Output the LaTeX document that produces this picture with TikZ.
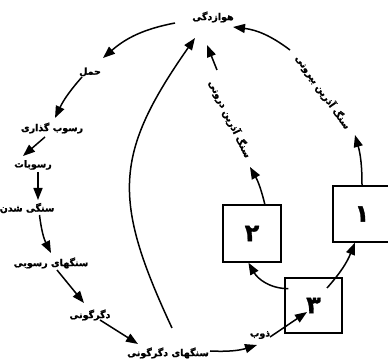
\documentclass[tikz,border=0pt]{standalone}
\usepackage{fontspec}
\newfontfamily\fa[Script=Arabic,BoldFeatures={FakeBold=1.2}]{DejaVu Sans}
\TeXXeTstate=1
\usetikzlibrary{arrows.meta}
\begin{document}
\begin{tikzpicture}[x=1pt,y=1pt,
  lbl/.style={font=\fa\bfseries\fontsize{9.5}{11}\selectfont, inner sep=1pt},
  numbox/.style={draw, line width=1.4pt, minimum width=57pt, minimum height=55pt, inner sep=0pt,
    font=\fa\bfseries\fontsize{24}{26}\selectfont},
  arr/.style={line width=1.5pt, -{Triangle[length=12pt,width=9pt]}}]
\useasboundingbox (0,0) rectangle (388,361);
\fill[white] (0,0) rectangle (388,361);
% labels
\node[lbl] (w)  at (213,344) {\beginR هوازدگی\endR};
\node[lbl] (hm) at (90,289)  {\beginR حمل\endR};
\node[lbl] (rg) at (52,233)  {\beginR رسوب گذاری\endR};
\node[lbl] (rs) at (33,196)  {\beginR رسوبات\endR};
\node[lbl] (ss) at (27,153)  {\beginR سنگی شدن\endR};
\node[lbl] (sr) at (51,98)   {\beginR سنگهای رسوبی\endR};
\node[lbl] (dg) at (90,46)   {\beginR دگرگونی\endR};
\node[lbl] (sd) at (168,8)   {\beginR سنگهای دگرگونی\endR};
\node[lbl] (zb) at (260,26)  {\beginR ذوب\endR};
\node[lbl, rotate=-55] (l1) at (323,269) {\beginR سنگ آذرین بیرونی\endR};
\node[lbl, rotate=-64] (l2) at (230,242) {\beginR سنگ آذرین درونی\endR};
% boxes
\node[numbox, minimum width=58pt, minimum height=56pt] (b1) at (362,147) {\beginR ۱\endR};
\node[numbox, minimum width=58pt, minimum height=57pt] (b2) at (252,127.5) {\beginR ۲\endR};
\node[numbox] (b3) at (313.5,55.5) {\beginR ۳\endR};
% left chain
\draw[arr] ([shift={(-38,-6)}]w.center) to[bend right=15] ([shift={(13,14)}]hm.center);
\draw[arr] ([shift={(-8,-5)}]hm.center) to[bend right=8] ([shift={(3,10)}]rg.center);
\draw[arr] ([shift={(-7,-9)}]rg.center) -- ([shift={(-10,9)}]rs.center);
\draw[arr] ([shift={(5,-7)}]rs.center) -- ([shift={(11,8)}]ss.center);
\draw[arr] ([shift={(12.5,-7)}]ss.center) to[bend right=10] ([shift={(0,10)}]sr.center);
\draw[arr] ([shift={(6,-7)}]sr.center) -- ([shift={(-6,12)}]dg.center);
\draw[arr] ([shift={(10,-5)}]dg.center) -- ([shift={(-30,9)}]sd.center);
\draw[arr] ([shift={(42,2)}]sd.center) to[bend right=10] ([shift={(-3,-10)}]zb.center);
\draw[arr] ([shift={(10,-2)}]zb.center) -- ([shift={(-6.5,-6.5)}]b3.center);
% big arc
\draw[arr] ([shift={(4,25)}]sd.center) to[out=115,in=-125,looseness=1.25] ([shift={(-18,-21)}]w.center);
% boxes connectors
\draw[arr] ([xshift=4pt]b3.150) to[out=180,in=-60] (b2.263);
\draw[arr] ([shift={(13.5,17.5)}]b3.center) to[bend right=10] (b1.256);
% right arcs
\draw[arr] (b1.north) to[bend right=8] ([shift={(32,-43)}]l1.center);
\draw[arr] ([shift={(-33,42)}]l1.center) to[bend right=15] ([shift={(20,-10)}]w.center);
\draw[arr] ([shift={(13,28.5)}]b2.center) to[bend right=8] ([shift={(20,-48)}]l2.center);
\draw[arr] ([shift={(-13,49)}]l2.center) -- ([shift={(-6,-28)}]w.center);
\end{tikzpicture}
\end{document}
